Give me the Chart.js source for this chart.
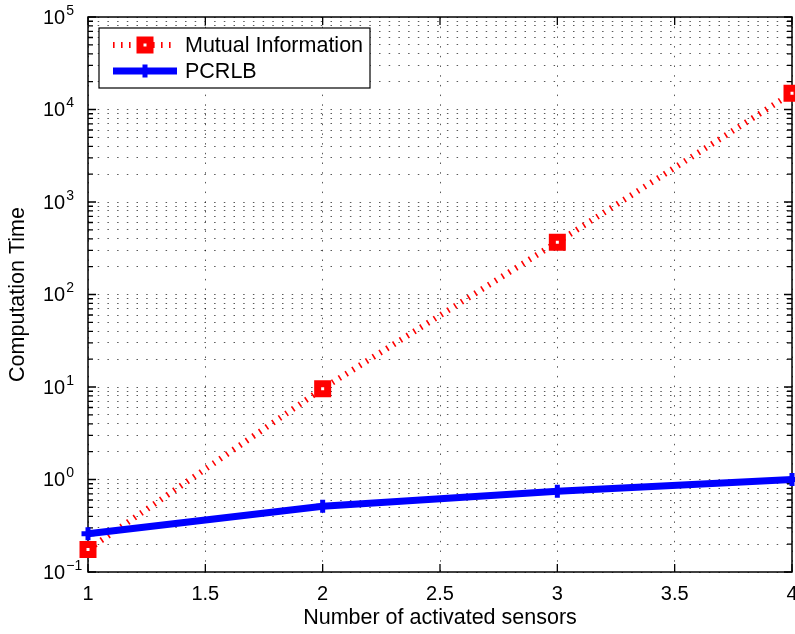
<!DOCTYPE html>
<html>
<head>
<meta charset="utf-8">
<script src="https://cdn.jsdelivr.net/npm/chart.js@4.4.0/dist/chart.umd.min.js"></script>
<style>
  html, body { margin: 0; padding: 0; background: #fff; }
</style>
</head>
<body>
<canvas id="myChart" width="795" height="634"></canvas>
<script>
// values (log y axis)
const sensors = [1, 2, 3, 4];
const mutualInfo = [0.175, 9.6, 368, 15000];
const pcrlb = [0.259, 0.514, 0.746, 1.0];
const xTicks = [1, 1.5, 2, 2.5, 3, 3.5, 4];
const yDecades = [-1, 0, 1, 2, 3, 4, 5];
const seriesNames = ["Mutual Information", "PCRLB"];

const FONT = "'Liberation Sans', Arial, Helvetica, sans-serif";

function toPoints(ys) {
    return sensors.map((x, i) => ({ x: x, y: ys[i] }));
}

// every 1..9 x 10^e step, for the log grid and minor ticks
function logTicks() {
    const out = [];
    for (let d = 0; d < yDecades.length - 1; d++) {
        for (let k = 1; k <= 9; k++) {
            out.push({ value: k * Math.pow(10, yDecades[d]), major: k === 1 });
        }
    }
    out.push({ value: Math.pow(10, yDecades[yDecades.length - 1]), major: true });
    return out;
}

function drawSquare(ctx, x, y) {
    ctx.save();
    ctx.fillStyle = "#fff";
    ctx.strokeStyle = "#ff0000";
    ctx.lineWidth = 7;
    ctx.beginPath();
    ctx.rect(x - 5, y - 5, 10, 10);
    ctx.fill();
    ctx.stroke();
    ctx.restore();
}

function drawCross(ctx, x, y) {
    ctx.save();
    ctx.strokeStyle = "#0000ff";
    ctx.lineWidth = 5;
    ctx.beginPath();
    ctx.moveTo(x - 6, y); ctx.lineTo(x + 6, y);
    ctx.moveTo(x, y - 6.5); ctx.lineTo(x, y + 6.5);
    ctx.stroke();
    ctx.restore();
}

const framePlugin = {
    id: "frame",
    beforeDatasetsDraw(chart) {
        const ctx = chart.ctx;
        const a = chart.chartArea;
        const xs = chart.scales.x;
        const ys = chart.scales.y;
        ctx.save();
        ctx.strokeStyle = "#000";
        ctx.lineWidth = 1.3;
        ctx.beginPath();
        // inward ticks on x (bottom and top)
        xTicks.forEach(v => {
            const px = xs.getPixelForValue(v);
            ctx.moveTo(px, a.bottom); ctx.lineTo(px, a.bottom - 8);
            ctx.moveTo(px, a.top); ctx.lineTo(px, a.top + 8);
        });
        // inward ticks on y (left and right)
        logTicks().forEach(t => {
            const py = ys.getPixelForValue(t.value);
            const len = t.major ? 8 : 5;
            ctx.moveTo(a.left, py); ctx.lineTo(a.left + len, py);
            ctx.moveTo(a.right, py); ctx.lineTo(a.right - len, py);
        });
        ctx.stroke();
        ctx.lineWidth = 1.5;
        ctx.strokeRect(a.left, a.top, a.right - a.left, a.bottom - a.top);
        ctx.restore();
    },
    afterDraw(chart) {
        const ctx = chart.ctx;
        const xs = chart.scales.x;
        const ys = chart.scales.y;
        const a = chart.chartArea;
        ctx.save();
        ctx.fillStyle = "#000";
        ctx.textBaseline = "middle";

        // x tick labels
        ctx.textAlign = "center";
        ctx.font = "20px " + FONT;
        xTicks.forEach(v => {
            ctx.fillText(String(v), xs.getPixelForValue(v), a.bottom + 22);
        });

        // y tick labels 10^e with superscript
        ctx.textAlign = "left";
        yDecades.forEach(e => {
            const py = ys.getPixelForValue(Math.pow(10, e));
            ctx.font = "20px " + FONT;
            ctx.fillText("10", 43, py + 1);
            const w = ctx.measureText("10").width;
            ctx.font = "14px " + FONT;
            ctx.fillText(e < 0 ? "\u2212" + Math.abs(e) : String(e), 43 + w + 1, py - 6);
        });

        // legend box
        const lx = 99, ly = 28, lw = 271, lh = 60;
        ctx.fillStyle = "#fff";
        ctx.fillRect(lx, ly, lw, lh);
        ctx.strokeStyle = "#000";
        ctx.lineWidth = 1.2;
        ctx.strokeRect(lx, ly, lw, lh);

        const r1 = 45, r2 = 71;
        ctx.save();
        ctx.strokeStyle = "#ff0000";
        ctx.lineWidth = 6;
        ctx.setLineDash([1.6, 6.4]);
        ctx.beginPath();
        ctx.moveTo(113, r1); ctx.lineTo(177, r1);
        ctx.stroke();
        ctx.restore();
        drawSquare(ctx, 145, r1);

        ctx.save();
        ctx.strokeStyle = "#0000ff";
        ctx.lineWidth = 7;
        ctx.beginPath();
        ctx.moveTo(113, r2); ctx.lineTo(177, r2);
        ctx.stroke();
        ctx.restore();
        drawCross(ctx, 145, r2);

        ctx.fillStyle = "#000";
        ctx.font = "21.5px " + FONT;
        ctx.fillText(seriesNames[0], 185, r1 + 1);
        ctx.fillText(seriesNames[1], 185, r2 + 1);
        ctx.restore();
    }
};

const ctx = document.getElementById("myChart");
const chart = new Chart(ctx, {
    type: "line",
    data: {
        datasets: [
            {
                label: seriesNames[0],
                data: toPoints(mutualInfo),
                borderColor: "#ff0000",
                borderWidth: 6,
                borderDash: [1.6, 6.4],
                pointStyle: "rect",
                pointRadius: 7.07,
                pointBorderWidth: 7,
                pointBackgroundColor: "#fff",
                pointBorderColor: "#ff0000",
                fill: false,
                tension: 0,
                clip: false,
                order: 2
            },
            {
                label: seriesNames[1],
                data: toPoints(pcrlb),
                borderColor: "#0000ff",
                borderWidth: 7,
                pointStyle: "cross",
                pointRadius: 6.5,
                pointBorderWidth: 5,
                pointBorderColor: "#0000ff",
                fill: false,
                tension: 0,
                clip: false,
                order: 1
            }
        ]
    },
    options: {
        responsive: false,
        animation: false,
        layout: { autoPadding: false, padding: { left: 0, top: 17, right: 3, bottom: 0 } },
        plugins: {
            legend: { display: false },
            tooltip: { enabled: false }
        },
        scales: {
            x: {
                type: "linear",
                min: 1,
                max: 4,
                afterBuildTicks: s => { s.ticks = xTicks.map(v => ({ value: v })); },
                afterFit: s => { s.height = 62; s.paddingLeft = 0; s.paddingRight = 0; },
                ticks: { display: false },
                grid: {
                    color: "rgba(0,0,0,0.65)",
                    lineWidth: 1,
                    drawTicks: false
                },
                border: { display: false, dash: [1.5, 8.2] },
                title: {
                    display: true,
                    text: "Number of activated sensors",
                    color: "#000",
                    font: { family: FONT, size: 21.5 },
                    padding: { top: 0, bottom: 3 }
                }
            },
            y: {
                type: "logarithmic",
                min: 0.1,
                max: 100000,
                afterBuildTicks: s => { s.ticks = logTicks(); },
                afterFit: s => { s.width = 88; s.paddingTop = 0; s.paddingBottom = 0; },
                ticks: { display: false },
                grid: {
                    color: "rgba(0,0,0,0.65)",
                    lineWidth: 1,
                    drawTicks: false
                },
                border: { display: false, dash: [1.5, 8.2] },
                title: {
                    display: true,
                    text: "Computation Time",
                    color: "#000",
                    font: { family: FONT, size: 21.5 },
                    padding: { top: 5, bottom: 0 }
                }
            }
        }
    },
    plugins: [framePlugin]
});
</script>
</body>
</html>
